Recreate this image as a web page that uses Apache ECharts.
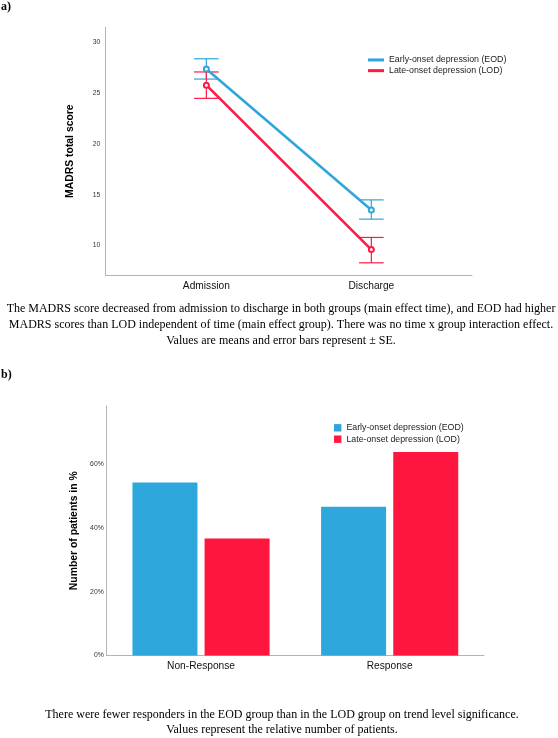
<!DOCTYPE html>
<html>
<head>
<meta charset="utf-8">
<script src="https://cdn.jsdelivr.net/npm/echarts@6/dist/echarts.min.js"></script>
<style>
  html, body { margin: 0; padding: 0; background: #fff; }
  #chart { width: 558px; height: 738px; }
</style>
</head>
<body>
<div id="chart"></div>
<script>
// ---- data ----
var groupNames = ['Early-onset depression (EOD)', 'Late-onset depression (LOD)'];

// a) MADRS total score, means and +/- SE
var timePoints = ['Admission', 'Discharge'];
var eodMean = [27.4, 13.5];
var eodLow = [26.4, 12.6];
var eodHigh = [28.4, 14.5];
var lodMean = [25.8, 9.6];
var lodLow = [24.5, 8.3];
var lodHigh = [27.1, 10.8];
var scoreTicks = [10, 15, 20, 25, 30];

// b) response, % of patients
var responseCats = ['Non-Response', 'Response'];
var eodPct = [54.2, 46.6];
var lodPct = [36.7, 63.8];
var pctTicks = [0, 20, 40, 60];

// captions
var captionA = [
    'The MADRS score decreased from admission to discharge in both groups (main effect time), and EOD had higher',
    'MADRS scores than LOD independent of time (main effect group). There was no time x group interaction effect.',
    'Values are means and error bars represent \u00b1 SE.'
];
var captionB = [
    'There were fewer responders in the EOD group than in the LOD group on trend level significance.',
    'Values represent the relative number of patients.'
];

var blue = '#2fa6da';
var red = '#ff1a45';

function pairs(xs, ys) {
    var out = [];
    for (var i = 0; i < ys.length; i++) out.push([i, ys[i]]);
    return out;
}
function errData(low, high) {
    var out = [];
    for (var i = 0; i < low.length; i++) out.push([i, low[i], high[i]]);
    return out;
}
function errRender(color) {
    return function (params, api) {
        var lo = api.coord([api.value(0), api.value(1)]);
        var hi = api.coord([api.value(0), api.value(2)]);
        var w = 12.3;
        var st = {stroke: color, lineWidth: 1.2};
        return {
            type: 'group',
            children: [
                {type: 'line', shape: {x1: lo[0], y1: lo[1], x2: hi[0], y2: hi[1]}, style: st},
                {type: 'line', shape: {x1: lo[0] - w, y1: lo[1], x2: lo[0] + w, y2: lo[1]}, style: st},
                {type: 'line', shape: {x1: hi[0] - w, y1: hi[1], x2: hi[0] + w, y2: hi[1]}, style: st}
            ]
        };
    };
}

var graphics = [];
graphics.push({type: 'text', left: 1, top: 1,
    style: {text: 'a)', font: 'bold 12px "Liberation Serif"', fill: '#000'}});
graphics.push({type: 'text', left: 1, top: 369,
    style: {text: 'b)', font: 'bold 12px "Liberation Serif"', fill: '#000'}});
var capAy = [309.3, 325, 341];
for (var i = 0; i < captionA.length; i++) {
    graphics.push({type: 'text', x: 281, y: capAy[i],
        style: {text: captionA[i], font: '12px "Liberation Serif"', fill: '#000',
            align: 'center', verticalAlign: 'middle'}});
}
var capBy = [714.7, 730.3];
for (var i = 0; i < captionB.length; i++) {
    graphics.push({type: 'text', x: 282, y: capBy[i],
        style: {text: captionB[i], font: '12px "Liberation Serif"', fill: '#000',
            align: 'center', verticalAlign: 'middle'}});
}

var axisLineStyle = {show: true, onZero: false, lineStyle: {color: '#b4b4b4', width: 1}};
var tickLabel = {color: '#333', fontSize: 6.8, fontFamily: 'Liberation Sans'};
var catLabel = {color: '#111', fontSize: 10.2, fontFamily: 'Liberation Sans', margin: 6};
var nameStyle = {color: '#000', fontSize: 10.4, fontWeight: 'bold', fontFamily: 'Liberation Sans'};

var myChart = echarts.init(document.getElementById('chart'), null, {renderer: 'canvas'});
var option = {
    animation: false,
    backgroundColor: '#fff',
    graphic: graphics,
    legend: [
        {
            data: groupNames,
            orient: 'vertical',
            left: 363, top: 49.6,
            itemWidth: 16, itemHeight: 3, itemGap: 0,
            icon: 'rect',
            textStyle: {fontSize: 8.8, fontFamily: 'Liberation Sans', color: '#222',
                lineHeight: 10.7},
            selectedMode: false
        },
        {
            data: groupNames,
            orient: 'vertical',
            left: 329, top: 417.1,
            itemWidth: 7.4, itemHeight: 7.4, itemGap: 0,
            icon: 'rect',
            textStyle: {fontSize: 8.8, fontFamily: 'Liberation Sans', color: '#222',
                lineHeight: 11.4},
            selectedMode: false
        }
    ],
    grid: [
        {left: 105.7, right: 86, top: 27.3, height: 247.7},
        {left: 106.7, right: 74, top: 406, height: 249.5}
    ],
    xAxis: [
        {
            type: 'value', gridIndex: 0, min: -0.61, max: 1.61,
            axisLine: axisLineStyle, axisTick: {show: false}, splitLine: {show: false},
            axisLabel: Object.assign({customValues: [0, 1], formatter: function (v) {
                return timePoints[Math.round(v)];
            }}, catLabel)
        },
        {
            type: 'category', gridIndex: 1, data: responseCats,
            axisLine: axisLineStyle, axisTick: {show: false},
            axisLabel: catLabel
        }
    ],
    yAxis: [
        {
            type: 'value', gridIndex: 0, min: 7.1, max: 31.5,
            name: 'MADRS total score', nameLocation: 'middle', nameGap: 31,
            nameTextStyle: nameStyle,
            axisLine: axisLineStyle, axisTick: {show: false}, splitLine: {show: false},
            axisLabel: Object.assign({customValues: scoreTicks, margin: 5.5}, tickLabel)
        },
        {
            type: 'value', gridIndex: 1, min: 0, max: 78.2,
            name: 'Number of patients in %', nameLocation: 'middle', nameGap: 26.7,
            nameTextStyle: nameStyle,
            axisLine: axisLineStyle, axisTick: {show: false}, splitLine: {show: false},
            axisLabel: Object.assign({customValues: pctTicks, margin: 3, formatter: '{value}%'}, tickLabel)
        }
    ],
    series: [
        {
            name: groupNames[0] + ' SE', type: 'custom', xAxisIndex: 0, yAxisIndex: 0,
            renderItem: errRender(blue), data: errData(eodLow, eodHigh), z: 1
        },
        {
            name: groupNames[1] + ' SE', type: 'custom', xAxisIndex: 0, yAxisIndex: 0,
            renderItem: errRender(red), data: errData(lodLow, lodHigh), z: 1
        },
        {
            name: groupNames[0], type: 'line', xAxisIndex: 0, yAxisIndex: 0,
            data: pairs(timePoints, eodMean), color: blue,
            lineStyle: {width: 2.6, color: blue},
            symbol: 'emptyCircle', symbolSize: 5,
            itemStyle: {color: blue, borderWidth: 1.2}, z: 2
        },
        {
            name: groupNames[1], type: 'line', xAxisIndex: 0, yAxisIndex: 0,
            data: pairs(timePoints, lodMean), color: red,
            lineStyle: {width: 2.6, color: red},
            symbol: 'emptyCircle', symbolSize: 5,
            itemStyle: {color: red, borderWidth: 1.2}, z: 2
        },
        {
            name: groupNames[0], type: 'bar', xAxisIndex: 1, yAxisIndex: 1,
            data: eodPct, itemStyle: {color: '#2ea8dc'},
            barWidth: 65, barGap: '11%'
        },
        {
            name: groupNames[1], type: 'bar', xAxisIndex: 1, yAxisIndex: 1,
            data: lodPct, itemStyle: {color: '#ff163e'},
            barWidth: 65, barGap: '11%'
        }
    ]
};
myChart.setOption(option);
</script>
</body>
</html>
